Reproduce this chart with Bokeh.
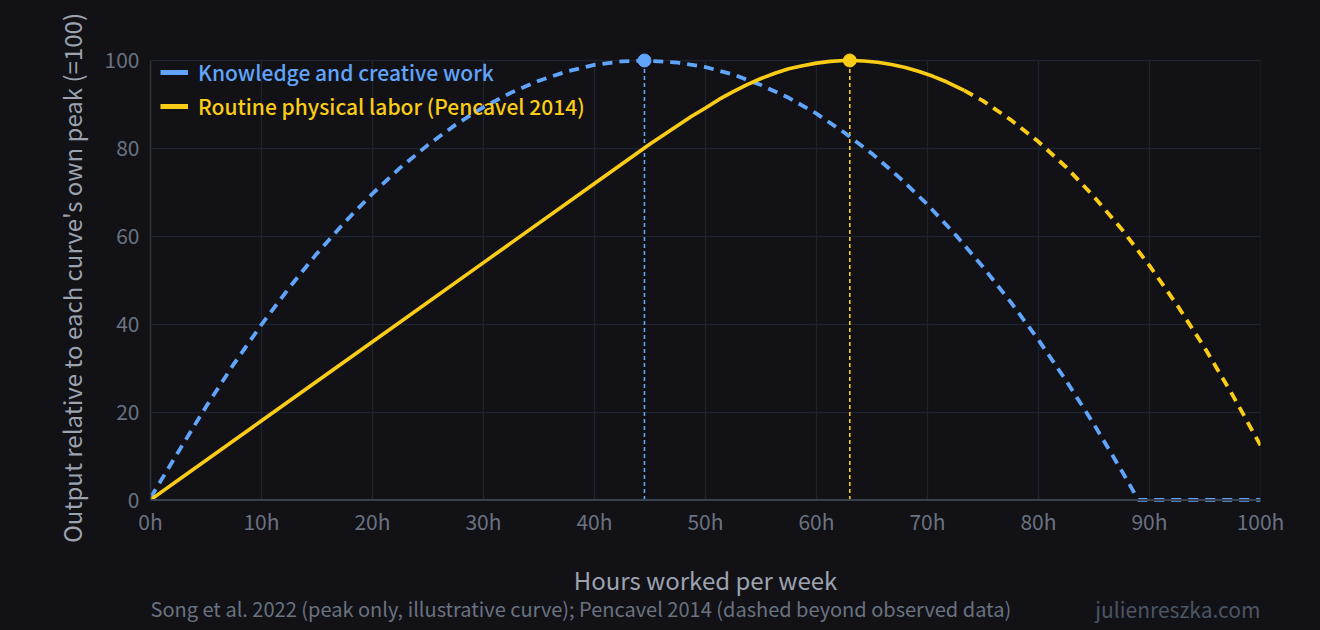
from bokeh.plotting import figure
from bokeh.layouts import column
from bokeh.models import Range1d, Legend, LegendItem, Label, Span, FixedTicker
from bokeh.embed import file_html
from bokeh.resources import INLINE

# knowledge / creative work (Song et al. 2022, illustrative curve)
knowledge_hours = [0, 2.5, 5, 7.5, 10, 12.5, 15, 17.5, 20, 22.5, 25, 27.5, 30, 32.5,
                   35, 37.5, 40, 42.5, 44.5, 47.5, 50, 52.5, 55, 57.5, 60, 62.5, 65,
                   67.5, 70, 72.5, 75, 77.5, 80, 82.5, 85, 87.5, 89, 100]
knowledge_output = [0.5, 10.9, 21.2, 30.9, 39.9, 48.3, 56.1, 63.2, 69.7, 75.6, 80.8,
                    85.4, 89.4, 92.7, 95.4, 97.5, 99.0, 99.8, 100, 99.5, 98.5, 96.8,
                    94.4, 91.5, 87.9, 83.6, 78.8, 73.3, 67.2, 60.4, 53.0, 45.0, 36.4,
                    27.1, 17.2, 6.6, 0, 0]

# routine physical labor (Pencavel 2014), observed range
physical_hours = [0, 10, 20, 30, 40, 45, 47.5, 48.75, 50, 51.25, 52.5, 53.75, 55,
                  56.25, 57.5, 58.75, 60, 61.25, 62.5, 63, 64.25, 65.5, 66.75, 68,
                  69.25, 70.5, 71.75, 73.3]
physical_output = [0, 18, 36, 54, 72, 81, 85.2, 87.3, 89.2, 91.2, 92.9, 94.5, 95.9,
                   97.1, 98.1, 98.8, 99.4, 99.8, 100, 100, 99.9, 99.6, 99.1, 98.4,
                   97.5, 96.4, 95.1, 93.2]

# extrapolated beyond observed data
physical_ext_hours = [73.3, 75, 77.5, 80, 82.5, 85, 87.5, 90, 92.5, 95, 97.5, 100]
physical_ext_output = [93.2, 90.8, 86.5, 81.5, 75.7, 69.0, 61.6, 53.3, 44.3, 34.5,
                       23.8, 12.4]

peak_hours = [44.5, 63]
peak_output = [100, 100]

x_ticks = [0, 10, 20, 30, 40, 50, 60, 70, 80, 90, 100]
y_ticks = [0, 20, 40, 60, 80, 100]

BG = "#111116"
GRID = "#1f232c"
BLUE = "#60a5fa"
YELLOW = "#facc15"
FONT = "Noto Sans CJK JP"
FONT_MED = "'Noto Sans CJK JP Medium', 'Noto Sans CJK JP'"

p = figure(width=1320, height=546, x_range=Range1d(0, 100), y_range=Range1d(-1.5, 102.5),
           output_backend="svg", toolbar_location=None,
           background_fill_color=BG, border_fill_color=BG, outline_line_color=None,
           min_border_left=150, min_border_right=60, min_border_top=49, min_border_bottom=40)

p.xgrid.visible = False
p.ygrid.ticker = FixedTicker(ticks=y_ticks)
p.ygrid.grid_line_color = GRID
p.ygrid.grid_line_width = 1.5

# vertical grid lines only between 0 and 100
p.segment(x0=x_ticks, y0=[0] * len(x_ticks), x1=x_ticks, y1=[100] * len(x_ticks),
          line_color=GRID, line_width=1.5)

p.xaxis.ticker = FixedTicker(ticks=x_ticks)
p.xaxis.major_label_overrides = {t: f"{t}h" for t in x_ticks}
p.yaxis.ticker = FixedTicker(ticks=y_ticks)
for ax in (p.xaxis, p.yaxis):
    ax.major_tick_line_color = None
    ax.minor_tick_line_color = None
    ax.major_label_text_color = "#6b7280"
    ax.major_label_text_font = FONT
    ax.major_label_text_font_size = "21px"
p.xaxis.axis_line_color = None
p.xaxis.major_label_standoff = -7
p.yaxis.axis_line_color = "#2b313c"
p.yaxis.axis_line_width = 1.5
p.yaxis.bounds = (0, 100)
p.yaxis.major_label_standoff = 5
p.yaxis.axis_label = "Output relative to each curve's own peak (=100)"
p.yaxis.axis_label_standoff = 13
p.yaxis.axis_label_text_font = FONT
p.yaxis.axis_label_text_font_size = "24px"
p.yaxis.axis_label_text_font_style = "normal"
p.yaxis.axis_label_text_color = "#9ca3af"

p.add_layout(Span(location=0, dimension="width", line_color="#3a4250", line_width=2))

# guide lines from each peak
p.segment(x0=peak_hours[:1], y0=[0], x1=peak_hours[:1], y1=peak_output[:1],
          line_color=BLUE, line_width=1.6, line_dash="4 3")
p.segment(x0=peak_hours[1:], y0=[0], x1=peak_hours[1:], y1=peak_output[1:],
          line_color=YELLOW, line_width=1.6, line_dash="4 3")

p.line(knowledge_hours, knowledge_output, line_color=BLUE, line_width=3.8, line_dash="10 7")
p.line(physical_hours, physical_output, line_color=YELLOW, line_width=3.6)
p.line(physical_ext_hours, physical_ext_output, line_color=YELLOW, line_width=3.8,
       line_dash="10 7")

p.scatter(peak_hours[:1], peak_output[:1], size=13, color=BLUE)
p.scatter(peak_hours[1:], peak_output[1:], size=13, color=YELLOW)

# legend keys: solid swatches (a single point draws nothing on the plot)
blue_key = p.line(peak_hours[:1], peak_output[:1], line_color=BLUE, line_width=5)
yellow_key = p.line(peak_hours[1:], peak_output[1:], line_color=YELLOW, line_width=5)

for label, key, color, vy in [("Knowledge and creative work", blue_key, BLUE, 419),
                              ("Routine physical labor (Pencavel 2014)", yellow_key, YELLOW, 385)]:
    lg = Legend(items=[LegendItem(label=label, renderers=[key])], location=(10, vy),
                background_fill_alpha=0, border_line_color=None, padding=0, margin=0,
                glyph_width=28, glyph_height=26, label_height=26, label_standoff=10,
                label_text_color=color, label_text_font=FONT_MED,
                label_text_font_size="21px", label_text_font_style="normal")
    p.add_layout(lg)

# strip below: x axis title and sources
foot = figure(width=1320, height=84, x_range=Range1d(0, 100), y_range=Range1d(0, 1),
              output_backend="svg", toolbar_location=None, x_axis_type=None, y_axis_type=None,
              background_fill_color=BG, border_fill_color=BG, outline_line_color=None,
              min_border_left=150, min_border_right=60, min_border_top=0, min_border_bottom=0)
foot.grid.visible = False
foot.add_layout(Label(x=50, y=51, y_units="screen", text="Hours worked per week",
                      text_align="center", text_baseline="middle",
                      text_font=FONT, text_font_size="24px", text_color="#9ca3af"))
foot.add_layout(Label(x=0, y=22, y_units="screen",
                      text="Song et al. 2022 (peak only, illustrative curve); Pencavel 2014 (dashed beyond observed data)",
                      text_align="left", text_baseline="middle",
                      text_font=FONT, text_font_size="20px", text_color="#6b7280"))
foot.add_layout(Label(x=100, y=22, y_units="screen",
                      text="julienreszka.com", text_align="right", text_baseline="middle",
                      text_font=FONT, text_font_size="21px", text_color="#4b5563"))

layout = column(p, foot, spacing=0, styles={"background-color": BG})
open("out.html", "w").write(file_html(layout, INLINE))
